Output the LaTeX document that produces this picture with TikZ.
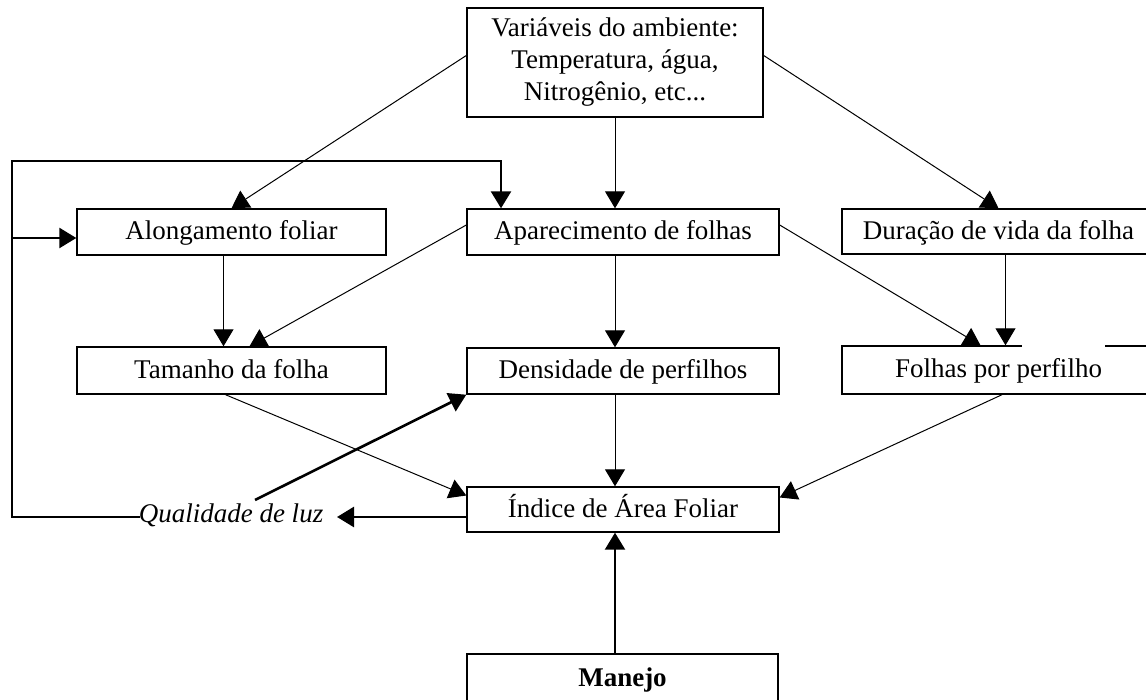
\documentclass[tikz,border=0pt]{standalone}
\usepackage{fontspec}
\setmainfont{Liberation Serif}
\usetikzlibrary{arrows.meta,calc}
\begin{document}
\begin{tikzpicture}[x=0.5pt,y=-0.5pt,
  box/.style={draw, line width=0.7pt, inner sep=0pt, align=center,
    font=\fontsize{13.5}{16}\selectfont},
  onebox/.style={box, text height=9.5pt, text depth=1.5pt},
  arr/.style={line width=0.5pt, -{Triangle[width=10pt,length=8.5pt]}},
  fbk/.style={line width=1.3pt},
  fbarr/.style={line width=1.3pt, -{Triangle[width=10pt,length=8.5pt]}}
]
\useasboundingbox (0,0) rectangle (1146,700);
\clip (0,0) rectangle (1146,700);
\fill[white] (0,0) rectangle (1146,700);

\node[box, minimum width=148pt, minimum height=54.5pt] (top) at (615,62.5)
  {Variáveis do ambiente:\\Temperatura, água,\\Nitrogênio, etc...};

\node[onebox, minimum width=154.5pt, minimum height=23pt] (along) at (231.5,232) {Alongamento foliar};
\node[onebox, minimum width=156pt, minimum height=23pt] (apar) at (623,232) {Aparecimento de folhas};
\node[onebox, minimum width=156.5pt, minimum height=22.5pt] (dur) at (998.5,231.5) {Duração de vida da folha};

\node[onebox, minimum width=154.5pt, minimum height=23.5pt] (tam) at (231.5,370.5) {Tamanho da folha};
\node[onebox, minimum width=156pt, minimum height=23pt] (dens) at (623,371) {Densidade de perfilhos};
\node[onebox, minimum width=156.5pt, minimum height=24pt] (folhas) at (998.5,370) {Folhas por perfilho};
\draw[white, line width=1.5pt] (1022,346) -- (1105,346);

\node[onebox, minimum width=156pt, minimum height=22.5pt] (ind) at (623,509.5) {Índice de Área Foliar};
\node[onebox, minimum width=155.5pt, minimum height=24pt, font=\fontsize{13.5}{16}\selectfont\bfseries] (man) at (622.5,678) {Manejo};

\node[inner sep=0pt, text height=9.5pt, text depth=1.5pt, font=\fontsize{13.5}{16}\selectfont\itshape] (qual) at (231,514) {Qualidade de luz};
\coordinate (qL) at (140,517);
\coordinate (qR) at (337,517);
\coordinate (qS) at (255,500);
\coordinate (fb) at (12,161);

% arrows from environment box
\draw[arr] ([yshift=3.5pt]top.west) -- (along.north);
\draw[arr] (top.south) -- (top.south |- apar.north);
\draw[arr] ([yshift=3.5pt]top.east) -- (dur.north);

% second row
\draw[arr] ([xshift=-4pt]along.south) -- ([xshift=-4pt]tam.north);
\draw[arr] ([yshift=3.5pt]apar.west) -- ([xshift=9pt]tam.north);
\draw[arr] (top.south |- apar.south) -- (top.south |- dens.north);
\draw[arr] ([yshift=3.5pt]apar.east) -- ([xshift=-9pt]folhas.north);
\draw[arr] ([xshift=3.5pt]dur.south) -- ([xshift=3.5pt]folhas.north);

% third row
\draw[arr] ([xshift=-3pt]tam.south) -- ([yshift=7pt]ind.west);
\draw[arr] (top.south |- dens.south) -- (top.south |- ind.north);
\draw[arr] ([xshift=1.75pt]folhas.south) -- ([yshift=6pt]ind.east);

% management
\draw[fbarr, line width=1.1pt] (top.south |- man.north) -- (top.south |- ind.south);

% light quality feedback
\draw[fbarr] ([yshift=-3.75pt]ind.west) -- (qR);
\draw[fbarr] (qS) -- (dens.south west);
\draw[fbk, -{Triangle[width=10pt,length=8.5pt]}] (qL) -| (fb) -| ([xshift=-61pt]apar.north);
\draw[fbarr] ([yshift=-3pt]along.west -| fb) -- ([yshift=-3pt]along.west);
\end{tikzpicture}
\end{document}
